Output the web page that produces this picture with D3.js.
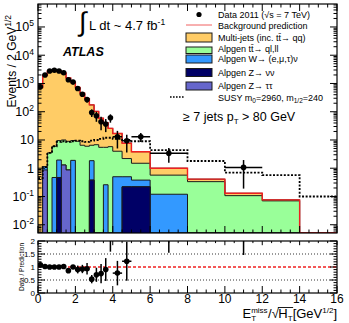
<!DOCTYPE html>
<html>
<head>
<meta charset="utf-8">
<script src="https://cdn.jsdelivr.net/npm/d3@7"></script>
<style>
body { margin: 0; background: #fff; }
svg text { font-family: "Liberation Sans", Arial, Helvetica, sans-serif; fill: #000; }
</style>
</head>
<body>
<svg id="chart" width="349" height="323"></svg>
<script>
// bin edges in E_T^miss / sqrt(H_T) [GeV^1/2]
var binEdges = [0,0.25,0.5,0.75,1,1.25,1.5,1.75,2,2.25,2.5,2.75,3,3.25,3.5,3.75,4,4.5,5,6,8,10,12,14,16];

// background components, events / 2 GeV^1/2 (stacked bottom -> top)
var zNuNu    = [0,0,0,0,0.47,0,0,0,0,0,0,0.38,0,0,0,0,0,0.22,0.22,0,0,0,0,0];
var zTauTau  = [0,0.87,0,0,0,1.3,0.87,0,0,0,0,0,0,0,0,0,0,0,0,0,0,0,0,0];
var wJets    = [0,0.26,0,0.47,1.48,0,0,1.9,0,0,0,1.47,0,0,0.26,0,0.5,0.28,0.16,0.12,0,0,0,0];
var ttbar    = [0,0,3.5,5.5,7.55,8.7,8.13,7.6,9,6.5,6,4.65,6.8,5.5,5.24,5.8,3.5,1.7,1.12,0.45,0.335,0.107,0.07,0];
var multijet = [713,1959,2746,2944,2740,2340,1561,1110,721,443,284,168,96,53.5,35.5,20,13,5.5,2.35,0.43,0.075,0.023,0.006,0];

// data 2011 and its errors (null = empty bin)
var dataVals = [770,2000,2750,2950,2750,2400,1350,1120,660,415,270,93,72,44,37,61,13,9.4,13,3.4,null,1.07,null,null];
var dataErr  = [70,60,70,70,80,90,110,60,110,72,64,28,28,22,18,20,8,5.8,4.5,1.85,null,0.88,null,null];

// SUSY signal m0=2960, m1/2=240
var susy = [0.45,1.1,3.5,6,8.5,9,8.5,9,9.5,9,8.5,9.5,10,11,12,12,11,10,9,4.4,1.8,0.7,0.57,0.1];

var xTicks = [0,2,4,6,8,10,12,14,16];
var ratioTicks = [0,0.5,1,1.5,2];
var ratioTickLabels = ["0","0.5","1","1.5","2"];

var plotL = 38, plotR = 337, mainT = 4, mainB = 233, ratT = 241, ratB = 293;
var yMin = 0.0051, yMax = 6.5e5;

var svg = d3.select("#chart");

var x = d3.scaleLinear().domain([0,16]).range([plotL,plotR]);
var y = d3.scaleLog().domain([yMin,yMax]).range([mainB,mainT]);
var yr = d3.scaleLinear().domain([0,2]).range([ratB,ratT]);

var keys = ["znn","ztt","w","tt","mj"];
var colors = {mj:"#ffcc66", tt:"#99ff99", w:"#3399ff", znn:"#000066", ztt:"#6666cc"};

var rows = binEdges.slice(0,-1).map(function(e,i){
  return {x0:e, x1:binEdges[i+1], znn:zNuNu[i], ztt:zTauTau[i], w:wJets[i], tt:ttbar[i], mj:multijet[i]};
});
var stacked = d3.stack().keys(keys)(rows);
var totals = rows.map(function(r){ return r.znn + r.ztt + r.w + r.tt + r.mj; });

function yc(v){ return y(Math.max(v, yMin)); }
function stepPts(vals){
  var pts = rows.map(function(r,i){ return [r.x0, vals[i]]; });
  pts.push([16, vals[vals.length-1]]);
  return pts;
}

svg.append("clipPath").attr("id","mainClip")
  .append("rect").attr("x",plotL).attr("y",mainT).attr("width",plotR-plotL).attr("height",mainB-mainT);
svg.append("clipPath").attr("id","ratClip")
  .append("rect").attr("x",plotL).attr("y",ratT).attr("width",plotR-plotL).attr("height",ratB-ratT);

var main = svg.append("g").attr("clip-path","url(#mainClip)");

var area = d3.area().curve(d3.curveStepAfter)
  .x(function(d){ return x(d[0]); })
  .y0(mainB)
  .y1(function(d){ return yc(d[1]); });
var step = d3.line().curve(d3.curveStepAfter)
  .x(function(d){ return x(d[0]); })
  .y(function(d){ return yc(d[1]); });

// draw cumulative layers, largest first, like THStack
stacked.slice().reverse().forEach(function(layer){
  var tops = layer.map(function(d){ return d[1]; });
  var pts = stepPts(tops);
  main.append("path").attr("d", area(pts)).attr("fill", colors[layer.key]);
  main.append("path").attr("d", step(pts)).attr("fill","none")
    .attr("stroke","#1a1a1a").attr("stroke-width",1);
});

// total background
main.append("path").attr("d", step(stepPts(totals)))
  .attr("fill","none").attr("stroke","#f02020").attr("stroke-width",1.4);

// SUSY
main.append("path").attr("d", step(stepPts(susy)))
  .attr("fill","none").attr("stroke","#000").attr("stroke-width",1.8)
  .attr("stroke-dasharray","2,1.6");

// data points
rows.forEach(function(r,i){
  var v = dataVals[i];
  if (v == null) return;
  var cx = x((r.x0 + r.x1)/2);
  var lo = Math.max(v - dataErr[i], yMin);
  main.append("line").attr("x1",cx).attr("x2",cx).attr("y1",yc(v + dataErr[i])).attr("y2",y(lo))
    .attr("stroke","#000").attr("stroke-width",1.5);
  main.append("line").attr("x1",x(r.x0)).attr("x2",x(r.x1)).attr("y1",y(v)).attr("y2",y(v))
    .attr("stroke","#000").attr("stroke-width",1.5);
  main.append("circle").attr("cx",cx).attr("cy",y(v)).attr("r",2.8).attr("fill","#000");
});

// ratio panel
var rat = svg.append("g").attr("clip-path","url(#ratClip)");
[0.5,1.5].forEach(function(v){
  rat.append("line").attr("x1",plotL).attr("x2",plotR).attr("y1",yr(v)).attr("y2",yr(v))
    .attr("stroke","#000").attr("stroke-width",0.8).attr("stroke-dasharray","1,2");
});
rat.append("line").attr("x1",plotL).attr("x2",plotR).attr("y1",yr(1)).attr("y2",yr(1))
  .attr("stroke","#f02020").attr("stroke-width",1.4).attr("stroke-dasharray","3,2");

rows.forEach(function(r,i){
  var v = dataVals[i];
  if (v == null || totals[i] <= 0) return;
  var q = v / totals[i], e = dataErr[i] / totals[i];
  var cx = x((r.x0 + r.x1)/2);
  rat.append("line").attr("x1",cx).attr("x2",cx).attr("y1",yr(q+e)).attr("y2",yr(Math.max(q-e,0)))
    .attr("stroke","#000").attr("stroke-width",1.5);
  rat.append("line").attr("x1",x(r.x0)).attr("x2",x(r.x1)).attr("y1",yr(q)).attr("y2",yr(q))
    .attr("stroke","#000").attr("stroke-width",1.5);
  rat.append("circle").attr("cx",cx).attr("cy",yr(q)).attr("r",2.8).attr("fill","#000");
});

// frames
[[mainT,mainB],[ratT,ratB]].forEach(function(p){
  svg.append("rect").attr("x",plotL).attr("y",p[0]).attr("width",plotR-plotL).attr("height",p[1]-p[0])
    .attr("fill","none").attr("stroke","#000").attr("stroke-width",1.2);
});

var axes = svg.append("g").attr("stroke","#000").attr("stroke-width",1);
function tick(x1,y1,x2,y2){ axes.append("line").attr("x1",x1).attr("y1",y1).attr("x2",x2).attr("y2",y2); }

// x ticks on both panels (major every 2, minor every 0.5)
d3.range(0,16.01,0.5).forEach(function(v){
  var len = (v % 2 === 0) ? 7 : 3.5;
  var px = x(v);
  tick(px,mainB,px,mainB-len); tick(px,mainT,px,mainT+len);
  tick(px,ratB,px,ratB-len); tick(px,ratT,px,ratT+len*0.6);
});

// log y ticks
d3.range(-3,6).forEach(function(d){
  d3.range(1,10).forEach(function(m){
    var v = m * Math.pow(10,d);
    if (v < yMin || v > yMax) return;
    var len = m === 1 ? 7 : 3.5;
    var py = y(v);
    tick(plotL,py,plotL+len,py); tick(plotR,py,plotR-len,py);
  });
});

// ratio y ticks
d3.range(0,2.001,0.1).forEach(function(v){
  var major = Math.abs(v*2 - Math.round(v*2)) < 1e-6;
  var len = major ? 7 : 3.5;
  var py = yr(v);
  tick(plotL,py,plotL+len,py); tick(plotR,py,plotR-len,py);
});

// y labels main
d3.range(-2,6).forEach(function(d){
  var t = svg.append("text").attr("x",34).attr("y",y(Math.pow(10,d))+4.5)
    .attr("text-anchor","end").style("font-size","12.5px");
  if (d === 0) { t.text("1"); return; }
  t.append("tspan").text("10");
  if (d !== 1) t.append("tspan").attr("dy",-5).style("font-size","8.5px").text(d);
});

// ratio labels
ratioTicks.forEach(function(v,i){
  svg.append("text").attr("x",35).attr("y",yr(v)+3).attr("text-anchor","end")
    .style("font-size","8px").text(ratioTickLabels[i]);
});

// x labels
xTicks.forEach(function(v){
  svg.append("text").attr("x",x(v)).attr("y",303).attr("text-anchor","middle")
    .style("font-size","12px").text(v);
});

// axis titles
var yt = svg.append("text").attr("transform","translate(16,15) rotate(-90)")
  .attr("text-anchor","end").style("font-size","12px");
yt.append("tspan").text("Events / 2 GeV");
yt.append("tspan").attr("dy",-5).style("font-size","8.5px").text("1/2");

svg.append("text").attr("transform","translate(24," + yr(1) + ") rotate(-90)")
  .attr("text-anchor","middle").style("font-size","6.5px").text("Data / Prediction");

var xt = svg.append("g");
var cur = 0;
function piece(str, size, dy){
  var t = xt.append("text").attr("x",cur).attr("y",dy).style("font-size",size+"px").text(str);
  return t.node().getComputedTextLength();
}
cur += piece("E",13,0);
var wS = piece("miss",8,-5.5), wT = piece("T",8,3);
cur += Math.max(wS,wT) + 0.5;
cur += piece("/",13,0);
cur += piece("\u221a",13,0) - 0.5;
var hx = cur;
cur += piece("H",13,0);
cur += piece("T",8,3);
xt.append("line").attr("x1",hx-0.5).attr("x2",cur+0.5).attr("y1",-10.5).attr("y2",-10.5)
  .attr("stroke","#000").attr("stroke-width",0.9);
cur += piece(" [GeV",13,0);
cur += piece("1/2",8,-5.5);
cur += piece("]",13,0);
xt.attr("transform","translate(" + (plotR - cur) + ",318)");

// legend
var legend = svg.append("g").style("font-size","9px");
legend.append("circle").attr("cx",199).attr("cy",14.5).attr("r",2.6).attr("fill","#000");
legend.append("text").attr("x",218).attr("y",18).text("Data 2011 (\u221as = 7 TeV)");
legend.append("line").attr("x1",186).attr("x2",212).attr("y1",25).attr("y2",25)
  .attr("stroke","#f06060").attr("stroke-width",1);
legend.append("text").attr("x",218).attr("y",28.5).text("Background prediction");

var boxes = [
  {key:"mj",  y:33,   h:9,   label:"Multi-jets (inc. tt\u0304\u2192 qq)", ty:40.5},
  {key:"tt",  y:47,   h:6.5, label:"Alpgen tt\u0304\u2192 ql,ll",          ty:51.5},
  {key:"w",   y:55,   h:8,   label:"Alpgen W\u2192 (e,\u03bc,\u03c4)\u03bd", ty:62},
  {key:"znn", y:68.5, h:8,   label:"Alpgen Z\u2192 \u03bd\u03bd",         ty:75.5},
  {key:"ztt", y:82,   h:8,   label:"Alpgen Z\u2192 \u03c4\u03c4",         ty:88.5}
];
boxes.forEach(function(b){
  legend.append("rect").attr("x",186).attr("y",b.y).attr("width",26).attr("height",b.h)
    .attr("fill",colors[b.key]).attr("stroke","#1a1a1a").attr("stroke-width",1);
  legend.append("text").attr("x",218).attr("y",b.ty).text(b.label);
});
legend.append("line").attr("x1",170).attr("x2",184).attr("y1",97).attr("y2",97)
  .attr("stroke","#000").attr("stroke-width",1.6).attr("stroke-dasharray","1.6,1.4");
var st = legend.append("text").attr("x",218).attr("y",100.5);
st.append("tspan").text("SUSY m");
st.append("tspan").attr("dy",2.5).style("font-size","6.5px").text("0");
st.append("tspan").attr("dy",-2.5).text("=2960, m");
st.append("tspan").attr("dy",2.5).style("font-size","6.5px").text("1/2");
st.append("tspan").attr("dy",-2.5).text("=240");

// selection text
var sel = svg.append("text").attr("x",183).attr("y",121).style("font-size","12.5px");
sel.append("tspan").text("\u2265 7 jets p");
sel.append("tspan").attr("dy",3).style("font-size","8px").text("T");
sel.append("tspan").attr("dy",-3).text(" > 80 GeV");

// luminosity
svg.append("text").attr("x",79).attr("y",31).style("font-size","27px").text("\u222b");
var lumi = svg.append("text").attr("x",89).attr("y",29.5).style("font-size","13px");
lumi.append("tspan").text("L dt ~ 4.7 fb");
lumi.append("tspan").attr("dy",-5).style("font-size","8.5px").text("-1");

svg.append("text").attr("x",63).attr("y",56).style("font-size","12.5px")
  .style("font-weight","bold").style("font-style","italic").text("ATLAS");
</script>
</body>
</html>
